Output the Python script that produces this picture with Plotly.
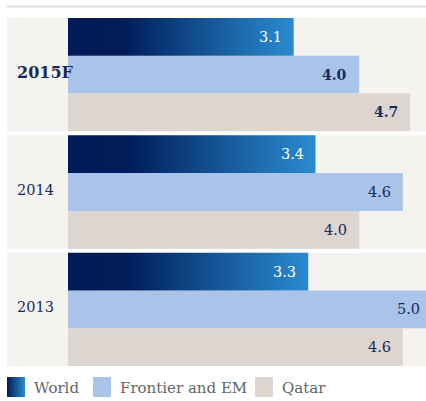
import plotly.graph_objects as go

years = ["2015F", "2014", "2013"]
world = [3.1, 3.4, 3.3]
frontier = [4.0, 4.6, 5.0]
qatar = [4.7, 4.0, 4.6]
series_names = ["World", "Frontier and EM", "Qatar"]

NAVY = "#182a5e"
WORLD_SCALE = [[0, "#001b57"], [0.25, "#001d5a"], [0.65, "#175a9c"], [1, "#2a8bd0"]]
FRONTIER_C = "#aac3e8"
QATAR_C = "#dcd5d0"
PANEL_C = "#f5f3ef"
FONT = "DejaVu Serif"

W, H = 426, 401
gap = 0.106
group_step = 3 + gap


def yc(g, s):
    return g * group_step + s + 0.5


fig = go.Figure()

# panels
for g in range(len(years)):
    fig.add_shape(type="rect", xref="x domain", yref="y", x0=0, x1=1,
                  y0=g * group_step, y1=g * group_step + 3,
                  fillcolor=PANEL_C, line_width=0, layer="below")

# World bars with gradient
for g, v in enumerate(world):
    y0, y1 = yc(g, 0) - 0.5, yc(g, 0) + 0.5
    fig.add_trace(go.Scatter(
        x=[0, v, v, 0, 0], y=[y0, y0, y1, y1, y0], mode="lines",
        line=dict(width=0), fill="toself",
        fillgradient=dict(type="horizontal", colorscale=WORLD_SCALE, start=0, stop=v),
        showlegend=False, hoverinfo="skip", xaxis="x", yaxis="y"))

fig.add_trace(go.Bar(orientation="h", x=frontier, y=[yc(g, 1) for g in range(3)],
                     width=1, marker=dict(color=FRONTIER_C, line_width=0),
                     name=series_names[1], showlegend=False))
fig.add_trace(go.Bar(orientation="h", x=qatar, y=[yc(g, 2) for g in range(3)],
                     width=1, marker=dict(color=QATAR_C, line_width=0),
                     name=series_names[2], showlegend=False))

# value labels (text placed at the arrow tail = bar end; invisible arrow)
for s, vals in enumerate([world, frontier, qatar]):
    for g, v in enumerate(vals):
        bold = (g == 0 and s > 0)
        color = "white" if s == 0 else NAVY
        txt = f"<b>{v:.1f}</b>" if bold else f"{v:.1f}"
        fig.add_annotation(x=0, y=yc(g, s), xref="x", yref="y",
                           ax=v, ay=yc(g, s), axref="x", ayref="y",
                           showarrow=True, arrowcolor="rgba(0,0,0,0)", arrowwidth=0.1,
                           text=txt, xanchor="right", yanchor="middle", xshift=-10,
                           font=dict(family=FONT, size=14 if bold else 14.5, color=color))

# year labels
for g, yr in enumerate(years):
    txt = f"<b>{yr}</b>" if g == 0 else yr
    fig.add_annotation(x=15 / W, y=yc(g, 1) - 0.05, xref="paper", yref="y", text=txt,
                       showarrow=False, xanchor="left", yanchor="middle",
                       font=dict(family=FONT, size=16 if g == 0 else 14.5, color=NAVY))

# top rule
fig.add_shape(type="line", xref="paper", yref="paper", x0=7 / W, x1=1,
              y0=1 - 6.5 / H, y1=1 - 6.5 / H, line=dict(color="#e3ddd9", width=2))

# legend (pixel overlay axes)
leg = [(7, 25, None), (93, 111, FRONTIER_C), (255, 273, QATAR_C)]
for (x0, x1, c), name in zip(leg, series_names):
    kw = dict(fillcolor=c) if c else dict(fillgradient=dict(type="horizontal", colorscale=[[0, "#001c58"], [1, "#2a8bd0"]]))
    fig.add_trace(go.Scatter(x=[x0, x1, x1, x0, x0], y=[377, 377, 397, 397, 377],
                             mode="lines", line=dict(width=0), fill="toself",
                             showlegend=False, hoverinfo="skip",
                             xaxis="x2", yaxis="y2", **kw))
    fig.add_annotation(x=x1 + 7, y=388, xref="x2", yref="y2", text=name,
                       showarrow=False, xanchor="left", yanchor="middle",
                       font=dict(family=FONT, size=15, color="#5f6669"))

fig.update_layout(
    width=W, height=H, margin=dict(l=0, r=0, t=0, b=0),
    paper_bgcolor="white", plot_bgcolor="rgba(0,0,0,0)",
    barmode="overlay", showlegend=False,
    xaxis=dict(domain=[7 / W, 1], range=[-0.838, 4.918], visible=False, fixedrange=True),
    yaxis=dict(domain=[1 - 366 / H, 1 - 18 / H], range=[3 * 3 + 2 * gap, 0],
               visible=False, fixedrange=True),
    xaxis2=dict(domain=[0, 1], range=[0, W], visible=False, anchor="y2"),
    yaxis2=dict(domain=[0, 1], range=[H, 0], visible=False, anchor="x2"),
)

fig.write_html("out.html")
